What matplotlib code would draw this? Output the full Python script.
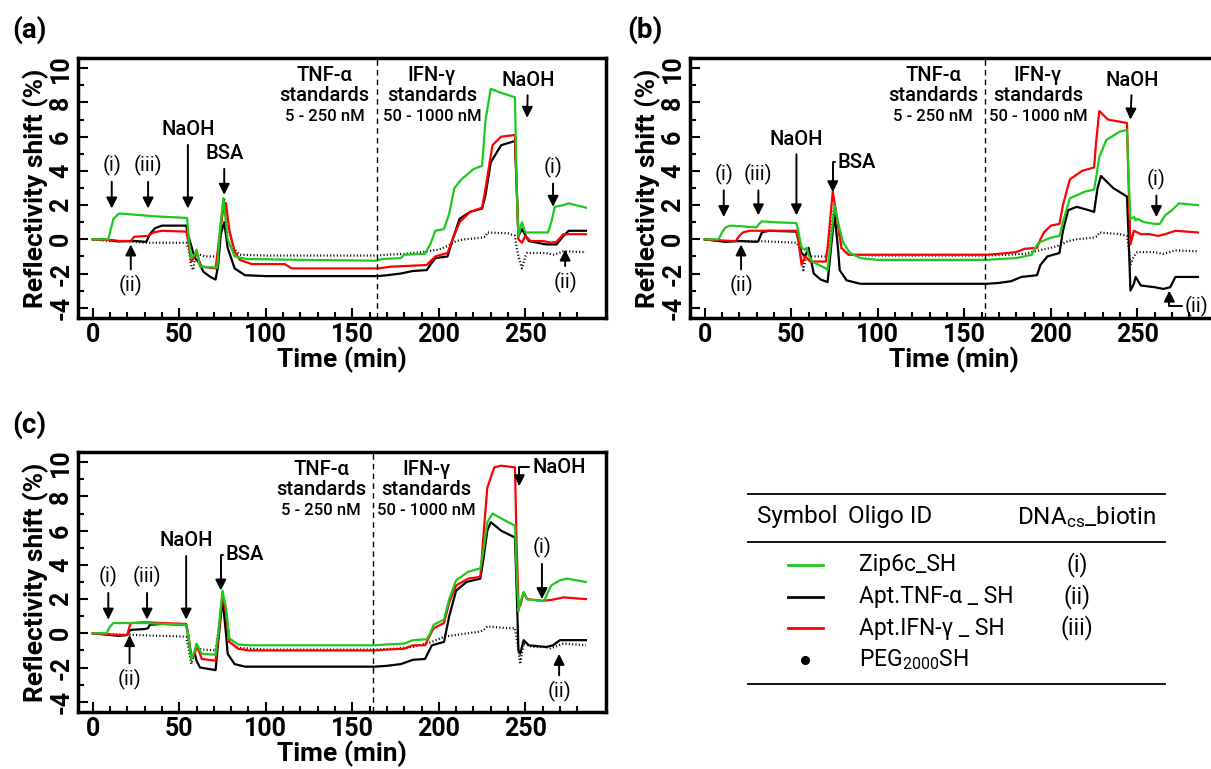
import matplotlib.pyplot as plt
from matplotlib.lines import Line2D

plt.rcParams['font.family'] = ['Roboto', 'DejaVu Sans']
plt.rcParams['mathtext.default'] = 'regular'

GREEN = '#1ec81e'
RED = '#ff0000'
BLACK = '#000000'

# ---- panel (a) ----
ta_zip = [0, 9, 12, 15, 17, 35, 54.5, 55.5, 57, 59, 60, 62, 72, 73.5, 75.5, 78, 82, 89, 120, 164, 167, 178, 180, 192,
          195, 198, 203, 206, 209, 213, 220, 225, 227, 230, 235, 244, 245, 246, 248, 250, 263, 265, 267, 272, 275, 285]
ya_zip = [0, 0, 1.2, 1.5, 1.5, 1.35, 1.25, 0.0, -1.1, -0.9, -0.6, -1.6, -1.65, 0.5, 2.4, 0.0, -1.0, -1.15, -1.2, -1.25,
          -1.15, -1.1, -0.9, -0.85, -0.3, 0.5, 0.6, 1.5, 3.0, 3.5, 4.1, 4.3, 7.0, 8.8, 8.6, 8.3, 3.0, 0.2, 1.0, 0.4, 0.4,
          1.0, 1.9, 2.0, 2.1, 1.85]
ta_tnf = [0, 10, 14, 25, 31, 33, 36, 40, 54, 55, 57, 59, 61, 64, 68, 71, 72.5, 74, 76, 78, 82, 88, 100, 165, 170, 178,
          185, 193, 195, 198, 205, 208, 212, 218, 225, 227, 230, 236, 244, 245, 246, 248, 252, 262, 268, 272, 275, 285]
ya_tnf = [0, -0.05, -0.12, -0.1, -0.15, 0.3, 0.65, 0.8, 0.8, 0.3, -0.4, -1.1, -1.3, -1.9, -2.2, -2.35, -1.5, 0.3, 1.0,
          -0.5, -1.7, -2.1, -2.15, -2.15, -2.1, -2.0, -1.85, -1.8, -1.5, -1.1, -1.0, 0.0, 1.2, 1.6, 1.8, 2.6, 4.5, 5.5,
          5.75, 3.0, 0.2, 0.6, -0.1, -0.3, -0.3, 0.2, 0.5, 0.5]
ta_ifn = [0, 12, 15, 22, 24, 32, 35, 40, 54, 55, 57, 59, 60, 62, 63, 71, 72.5, 75, 77, 79, 82, 85, 92, 111, 115, 165,
          172, 183, 193, 195, 198, 205, 208, 212, 218, 225, 227, 231, 236, 244, 245, 246, 248, 250, 253, 260, 265, 268,
          272, 285]
ya_ifn = [0, -0.05, -0.1, -0.1, 0.15, 0.2, 0.4, 0.5, 0.45, 0.0, -1.3, -1.0, -0.8, -1.4, -1.6, -1.7, -0.5, 1.5, 2.1, 0.5,
          -0.7, -1.2, -1.45, -1.45, -1.7, -1.7, -1.6, -1.55, -1.5, -1.3, -1.0, -0.8, 0.0, 1.0, 1.6, 1.85, 3.0, 5.5, 6.0,
          6.1, 3.0, 0.0, -0.2, 0.2, -0.1, -0.1, -0.2, -0.15, 0.3, 0.3]
ta_peg = [0, 10, 20, 30, 54, 55.5, 57, 58, 59, 60, 62, 65, 72, 73.5, 76, 78, 81, 85, 100, 165, 170, 180, 190, 200, 205,
          210, 215, 225, 227, 228, 240, 244, 245, 246, 248, 250, 251, 262, 266, 268, 272, 285]
ya_peg = [0, -0.1, -0.1, -0.2, -0.2, -0.6, -1.6, -1.8, -1.2, -0.8, -0.9, -1.0, -1.0, 0.5, 2.4, 1.0, -0.5, -0.9, -0.95,
          -0.95, -0.9, -0.85, -0.75, -0.6, -0.4, -0.1, 0.0, 0.1, 0.15, 0.4, 0.35, 0.2, -0.5, -1.0, -1.7, -1.0, -0.8, -0.8,
          -0.9, -0.85, -0.7, -0.75]

# ---- panel (b) ----
tb_zip = [0, 8, 10, 12, 15, 30, 31, 33, 40, 53, 54, 56, 58, 59, 60, 62, 70, 71, 72.5, 75, 77, 80, 84, 90, 100, 163, 170,
          180, 189, 191, 193, 200, 205, 207, 211, 220, 225, 226, 228, 232, 240, 244, 245, 246, 248, 249, 250, 254, 260,
          263, 266, 270, 274, 285]
yb_zip = [0, 0, 0.4, 0.7, 0.8, 0.7, 0.85, 1.05, 1.0, 0.95, 0.5, -0.5, -0.6, -0.5, -0.9, -1.3, -1.7, -1.8, -0.5, 2.0, 1.0,
          -0.2, -0.8, -1.1, -1.2, -1.2, -1.15, -1.1, -0.9, -0.5, -0.2, 0.1, 0.2, 1.0, 2.4, 2.8, 2.9, 3.5, 4.8, 5.8, 6.3,
          6.4, 3.5, 1.2, 1.3, 1.1, 1.2, 1.0, 0.9, 0.9, 1.4, 1.7, 2.1, 2.0]
tb_tnf = [0, 12, 20, 30, 31, 33, 37, 53, 54, 56, 58, 60, 63, 67, 71, 72.5, 75, 77, 78, 82, 90, 163, 170, 177, 183, 192,
          194, 198, 205, 207, 210, 215, 222, 225, 227, 229, 236, 244, 245, 246, 248, 249, 252, 260, 265, 269, 272, 285]
yb_tnf = [0, -0.15, -0.1, -0.15, -0.1, 0.4, 0.5, 0.45, 0.0, -0.8, -1.0, -0.5, -2.0, -2.35, -2.5, -1.0, 1.5, -0.5, -1.8,
          -2.4, -2.6, -2.6, -2.55, -2.45, -2.2, -2.1, -1.5, -1.0, -0.8, 0.5, 1.7, 1.9, 1.7, 1.6, 3.0, 3.7, 3.0, 2.5, 0.0,
          -3.0, -2.6, -2.2, -2.7, -2.8, -2.9, -2.8, -2.2, -2.2]
tb_ifn = [0, 15, 18, 20, 22, 26, 53, 54, 56, 58, 61, 70, 71, 74, 76, 79, 83, 90, 163, 170, 180, 185, 192, 194, 196, 200,
          205, 207, 211, 218, 225, 226, 228, 233, 244, 245, 246, 248, 252, 257, 262, 266, 272, 285]
yb_ifn = [0, -0.1, -0.1, 0.2, 0.4, 0.5, 0.5, 0.0, -1.5, -1.0, -1.3, -1.3, -0.5, 2.8, 1.5, -0.5, -0.9, -0.9, -0.9, -0.85,
          -0.75, -0.55, -0.5, 0.0, 0.4, 0.8, 0.9, 2.0, 3.5, 4.0, 4.2, 5.5, 7.5, 7.0, 6.8, 3.0, -0.3, 0.5, 0.3, 0.3, 0.2,
          0.3, 0.5, 0.4]
tb_peg = [0, 10, 30, 53, 55, 57, 59, 62, 70, 72.5, 75, 77, 79, 83, 100, 163, 175, 185, 195, 200, 205, 210, 215, 225,
          227, 228, 240, 244, 245, 246, 248, 250, 260, 265, 272, 285]
yb_peg = [0, -0.1, -0.1, -0.2, -0.5, -1.8, -0.8, -1.0, -1.0, 0.0, 2.1, 1.0, -0.5, -0.9, -0.95, -0.95, -0.9, -0.85, -0.6,
          -0.5, -0.35, -0.1, 0.0, 0.1, 0.2, 0.4, 0.3, 0.2, -0.5, -1.5, -1.0, -0.75, -0.75, -0.85, -0.65, -0.7]

# ---- panel (c) ----
tc_zip = [0, 8, 10, 12, 30, 40, 54, 55, 57, 59, 60, 62, 63, 71, 72.5, 75, 77, 79, 84, 90, 163, 170, 180, 185, 193, 195,
          197, 203, 206, 210, 217, 224, 226, 228, 231, 240, 244, 245, 246, 247, 249, 251, 258, 261, 263, 265, 270, 274,
          285]
yc_zip = [0, 0, 0.4, 0.6, 0.6, 0.55, 0.5, 0.0, -1.5, -1.0, -0.6, -1.0, -1.2, -1.25, 0.0, 2.5, 1.5, -0.3, -0.65, -0.7,
          -0.7, -0.65, -0.6, -0.4, -0.35, 0.0, 0.5, 0.8, 2.0, 3.1, 3.6, 3.8, 5.0, 6.5, 7.0, 6.5, 6.3, 3.5, 1.3, 1.8, 2.4,
          2.0, 1.9, 1.9, 2.4, 2.8, 3.1, 3.2, 3.0]
tc_tnf = [0, 10, 15, 20, 21, 22, 30, 32, 33, 40, 54, 55, 57, 59, 60, 62, 71, 72.5, 75, 77, 78, 82, 88, 163, 170, 178,
          185, 192, 194, 196, 203, 206, 210, 216, 224, 226, 228, 230, 236, 244, 245, 246, 247, 249, 252, 262, 266, 270,
          285]
yc_tnf = [0, -0.1, -0.15, -0.1, 0.1, 0.2, 0.25, 0.3, 0.5, 0.55, 0.5, 0.0, -1.4, -1.2, -1.6, -2.0, -2.15, -0.5, 2.0, 0.0,
          -1.2, -1.8, -1.95, -1.95, -1.9, -1.8, -1.55, -1.5, -1.1, -0.7, -0.5, 1.0, 2.5, 3.0, 3.2, 4.5, 6.0, 6.5, 6.0, 5.6,
          2.5, -1.0, -1.2, -0.4, -0.7, -0.8, -0.7, -0.4, -0.4]
tc_ifn = [0, 15, 20, 21, 22, 30, 40, 54, 55, 57, 59, 60, 62, 63, 71, 72.5, 75, 77, 79, 84, 90, 163, 170, 180, 185, 192,
          194, 197, 203, 206, 210, 217, 224, 226, 228, 232, 236, 244, 245, 246, 247, 249, 251, 260, 265, 272, 285]
yc_ifn = [0, -0.1, -0.1, 0.3, 0.6, 0.65, 0.6, 0.55, 0.0, -1.5, -1.2, -0.7, -1.2, -1.5, -1.6, -0.3, 2.3, 1.2, -0.5, -0.9,
          -1.0, -1.0, -0.95, -0.9, -0.7, -0.7, -0.3, 0.3, 0.6, 1.8, 2.8, 3.2, 3.3, 6.0, 8.5, 9.7, 9.8, 9.7, 5.0, 1.8, 1.6,
          2.4, 2.0, 1.9, 1.95, 2.1, 2.0]
tc_peg = [0, 10, 25, 40, 54, 56, 57, 59, 60, 63, 71, 72.5, 75, 77, 79, 84, 100, 163, 175, 185, 196, 203, 210, 220, 224,
          226, 228, 240, 244, 245, 246, 247, 249, 254, 262, 264, 268, 272, 285]
yc_peg = [0, -0.05, -0.1, -0.15, -0.2, -1.2, -1.8, -1.0, -0.8, -0.95, -1.0, 0.0, 2.2, 1.0, -0.5, -0.85, -0.95, -0.95,
          -0.9, -0.8, -0.5, -0.2, -0.1, 0.05, 0.1, 0.2, 0.4, 0.3, 0.3, -0.3, -1.0, -1.8, -0.6, -0.8, -0.8, -0.9, -0.75,
          -0.6, -0.7]

# arrow labels: (text, text x, text y, tip x, tip y)
arrows_a = [('(i)', 11, 4.3, 11, 1.8), ('(iii)', 32, 4.3, 32, 1.8), ('NaOH', 55, 6.4, 55, 1.8),
            ('BSA', 76, 5.0, 76, 2.6), ('(ii)', 22, -2.7, 22, -0.3), ('NaOH', 251.5, 9.3, 251, 7.1),
            ('(i)', 266, 4.2, 266, 1.9), ('(ii)', 273, -2.5, 273, -0.6)]
arrows_b = [('(i)', 11, 3.8, 11, 1.3), ('(iii)', 31, 3.8, 31, 1.4), ('NaOH', 53, 5.85, 53, 1.4),
            ('(ii)', 21, -2.7, 21, -0.3), ('NaOH', 247, 9.3, 246, 7.0), ('(i)', 261, 3.5, 261, 1.3)]
bends_b = [('BSA', 77, 4.5, 74, 2.75), ('(ii)', 277.5, -3.9, 268.5, -3.0)]
arrows_c = [('(i)', 9, 3.3, 9, 0.8), ('(iii)', 31.4, 3.3, 31.4, 0.8), ('NaOH', 54, 5.4, 54, 0.8),
            ('(ii)', 21.3, -2.7, 21.3, -0.1), ('(i)', 259.6, 5.0, 259.6, 2.0), ('(ii)', 269.5, -3.4, 269.5, -1.2)]
bends_c = [('BSA', 77, 4.6, 74, 2.5), ('NaOH', 254, 9.7, 246.5, 8.6)]
std_x = {'a': (134, 196, 164.5), 'b': (132, 192.5, 161.7), 'c': (132, 193, 162)}

fig = plt.figure(figsize=(12.11, 7.69), dpi=100)
W, H = 1211, 769


def px_axes(l, r, t, b):
    return fig.add_axes([l / W, 1 - b / H, (r - l) / W, (b - t) / H])


ax_a = px_axes(78, 606, 58, 318)
ax_b = px_axes(690, 1218, 58, 318)
ax_c = px_axes(78, 606, 452, 712)

panels = [
    (ax_a, 'a', (ta_zip, ya_zip, ta_tnf, ya_tnf, ta_ifn, ya_ifn, ta_peg, ya_peg), arrows_a, []),
    (ax_b, 'b', (tb_zip, yb_zip, tb_tnf, yb_tnf, tb_ifn, yb_ifn, tb_peg, yb_peg), arrows_b, bends_b),
    (ax_c, 'c', (tc_zip, yc_zip, tc_tnf, yc_tnf, tc_ifn, yc_ifn, tc_peg, yc_peg), arrows_c, bends_c),
]

for ax, key, d, arrows, bends in panels:
    tz, yz, tt, yt, ti, yi, tp, yp = d
    ax.plot(tp, yp, color=BLACK, lw=1.6, ls=(0, (0.5, 1.0)))
    ax.plot(tt, yt, color=BLACK, lw=1.6)
    ax.plot(ti, yi, color=RED, lw=1.6)
    ax.plot(tz, yz, color=GREEN, lw=1.6)
    tnf_x, ifn_x, div_x = std_x[key]
    ax.axvline(div_x, color='k', lw=1, ls=(0, (4, 3)))
    for x0, name, conc in [(tnf_x, 'TNF-α', '5 - 250 nM'), (ifn_x, 'IFN-γ', '50 - 1000 nM')]:
        ax.text(x0, 9.6, name, ha='center', va='center', fontsize=14.5, fontweight='medium')
        ax.text(x0, 8.4, 'standards', ha='center', va='center', fontsize=14.5, fontweight='medium')
        ax.text(x0, 7.2, conc, ha='center', va='center', fontsize=12, fontweight='medium')
    for txt, tx, ty, px, py in arrows:
        ax.annotate(txt, xy=(px, py), xytext=(tx, ty), ha='center', va='center', fontsize=14.5,
                    fontweight='medium' if txt in ('NaOH', 'BSA') else 'normal',
                    arrowprops=dict(arrowstyle='-|>', color='k', lw=1.4, mutation_scale=16, shrinkA=2, shrinkB=0))
    for txt, tx, ty, px, py in bends:
        ax.annotate(txt, xy=(px, py), xytext=(tx, ty), ha='left', va='center', fontsize=14.5,
                    fontweight='medium' if txt in ('NaOH', 'BSA') else 'normal',
                    arrowprops=dict(arrowstyle='-|>', color='k', lw=1.4, mutation_scale=16, shrinkA=0, shrinkB=0,
                                    relpos=(0, 0.5), connectionstyle='angle,angleA=0,angleB=90,rad=0'))
    ax.set_xlim(-8.5, 296.6)
    ax.set_ylim(-4.6, 10.6)
    ax.set_xticks([0, 50, 100, 150, 200, 250])
    ax.set_xticks(range(0, 290, 10), minor=True)
    ax.set_yticks([-4, -2, 0, 2, 4, 6, 8, 10])
    ax.set_yticks(range(-4, 11), minor=True)
    ax.set_yticklabels(['-4', '-2', '0', '2', '4', '6', '8', '10'], rotation=90, va='center')
    ax.tick_params(which='both', direction='in', width=1.5, labelsize=18, top=False, right=False)
    ax.tick_params(which='major', length=7)
    ax.tick_params(which='minor', length=4)
    for lab in ax.get_xticklabels() + ax.get_yticklabels():
        lab.set_fontweight('bold')
    for sp in ax.spines.values():
        sp.set_linewidth(2.5)
    ax.set_xlabel('Time (min)', fontsize=19, fontweight='bold', labelpad=0)
    ax.set_ylabel('Reflectivity shift (%)', fontsize=19, fontweight='bold', labelpad=0)

fig.text(12 / W, 1 - 30 / H, '(a)', fontsize=20, fontweight='bold', va='center')
fig.text(627 / W, 1 - 30 / H, '(b)', fontsize=20, fontweight='bold', va='center')
fig.text(12 / W, 1 - 425 / H, '(c)', fontsize=20, fontweight='bold', va='center')

# legend table
for yy in (494, 542, 684):
    fig.add_artist(Line2D([748 / W, 1165 / W], [1 - yy / H, 1 - yy / H], color='k', lw=1.3))
hy = 1 - 517 / H
fig.text(797 / W, hy, 'Symbol', ha='center', va='center', fontsize=17.5)
fig.text(890 / W, hy, 'Oligo ID', ha='center', va='center', fontsize=17.5)
fig.text(1087 / W, hy, 'DNA$_{cs}$_biotin', ha='center', va='center', fontsize=17.5)
oligo_names = ['Zip6c_SH', 'Apt.TNF-α _ SH', 'Apt.IFN-γ _ SH', 'PEG$_{2000}$SH']
oligo_codes = ['(i)', '(ii)', '(iii)', '']
oligo_colors = [GREEN, BLACK, RED, None]
row_y = [565, 597, 628, 660]
for name, code, col, yy in zip(oligo_names, oligo_codes, oligo_colors, row_y):
    fy = 1 - yy / H
    if col is None:
        fig.add_artist(Line2D([805 / W], [fy], marker='o', color='k', markersize=5.5, ls='none'))
    else:
        fig.add_artist(Line2D([788 / W, 823 / W], [fy, fy], color=col, lw=2))
    fig.text(859 / W, fy, name, ha='left', va='center', fontsize=16.5)
    fig.text(1077 / W, fy, code, ha='center', va='center', fontsize=16.5)

fig.savefig('out.png', dpi=100)
